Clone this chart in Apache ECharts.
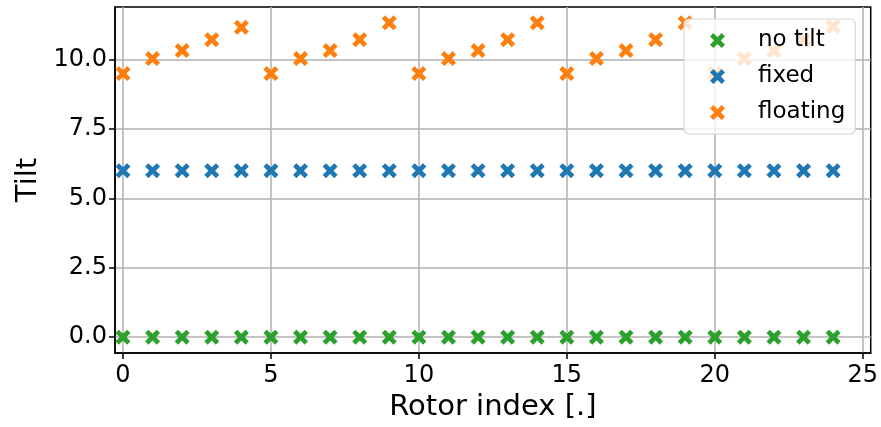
<!DOCTYPE html>
<html>
<head>
<meta charset="utf-8">
<script src="https://cdn.jsdelivr.net/npm/echarts@6/dist/echarts.min.js"></script>
<style>html,body{margin:0;padding:0;background:#fff}#c{width:881px;height:427px}</style>
</head>
<body>
<div id="c"></div>
<script>
var rotorIndex = [0,1,2,3,4,5,6,7,8,9,10,11,12,13,14,15,16,17,18,19,20,21,22,23,24];
var noTilt = [0,0,0,0,0,0,0,0,0,0,0,0,0,0,0,0,0,0,0,0,0,0,0,0,0];
var fixedTilt = [6,6,6,6,6,6,6,6,6,6,6,6,6,6,6,6,6,6,6,6,6,6,6,6,6];
var floatingTilt = [9.5,10.04,10.33,10.72,11.17, 9.5,10.04,10.33,10.72,11.33, 9.5,10.04,10.33,10.72,11.33, 9.5,10.04,10.33,10.72,11.33, 9.5,10.04,10.33,10.72,11.2];
var xTicks = [0,5,10,15,20,25];
var yTicks = [0,2.5,5,7.5,10];
var seriesNames = ['no tilt','fixed','floating'];
var colors = ['#2ca02c','#1f77b4','#ff7f0e'];

var X = 'path://M4.5 0 L10 5.5 L15.5 0 L20 4.5 L14.5 10 L20 15.5 L15.5 20 L10 14.5 L4.5 20 L0 15.5 L5.5 10 L0 4.5 Z';
function pairs(ys){ return rotorIndex.map(function(x,i){return [x, ys[i]];}); }
var font = 'DejaVu Sans';
var chart = echarts.init(document.getElementById('c'));
chart.setOption({
  animation: false,
  textStyle: {fontFamily: font},
  grid: {left: 115, right: 10, top: 7, bottom: 72, containLabel: false,
    show: true, borderColor: '#000', borderWidth: 1.5, backgroundColor: 'transparent'},
  xAxis: {
    type: 'value', min: -0.27, max: 25.27,
    name: 'Rotor index [.]', nameLocation: 'middle', nameGap: 40,
    nameTextStyle: {fontSize: 29, color: '#000', fontFamily: font},
    axisLine: {show: true, onZero: false, lineStyle: {color: '#000', width: 1.5}},
    axisTick: {show: true, length: 6, customValues: xTicks, lineStyle: {color: '#000', width: 1.5}},
    axisLabel: {customValues: xTicks, fontSize: 24, color: '#000', margin: 11, fontFamily: font},
    splitLine: {show: true, lineStyle: {color: '#b0b0b0', width: 1.5}}
  },
  yAxis: {
    type: 'value', min: -0.57, max: 11.9,
    name: 'Tilt', nameLocation: 'middle', nameGap: 72,
    nameTextStyle: {fontSize: 29, color: '#000', fontFamily: font},
    axisLine: {show: true, onZero: false, lineStyle: {color: '#000', width: 1.5}},
    axisTick: {show: true, length: 6, customValues: yTicks, lineStyle: {color: '#000', width: 1.5}},
    axisLabel: {customValues: yTicks, fontSize: 24, color: '#000', margin: 8, fontFamily: font,
      formatter: function(v){ return v.toFixed(1); }},
    splitLine: {show: true, lineStyle: {color: '#b0b0b0', width: 1.5}}
  },
  legend: {
    orient: 'vertical', left: 684, top: 19,
    padding: [10, 10, 10, 26], itemGap: 13,
    itemWidth: 15, itemHeight: 15,
    backgroundColor: 'rgba(255,255,255,0.8)', borderColor: '#d6d6d6', borderWidth: 1.2, borderRadius: 5,
    textStyle: {fontSize: 23, color: '#000', fontFamily: font, lineHeight: 22, padding: [0,0,0,28]},
    data: seriesNames
  },
  series: [
    {name: seriesNames[0], type: 'scatter', symbol: X, symbolSize: 15, data: pairs(noTilt), itemStyle: {color: colors[0], opacity: 1}},
    {name: seriesNames[1], type: 'scatter', symbol: X, symbolSize: 15, data: pairs(fixedTilt), itemStyle: {color: colors[1], opacity: 1}},
    {name: seriesNames[2], type: 'scatter', symbol: X, symbolSize: 15, data: pairs(floatingTilt), itemStyle: {color: colors[2], opacity: 1}}
  ]
});
</script>
</body>
</html>
